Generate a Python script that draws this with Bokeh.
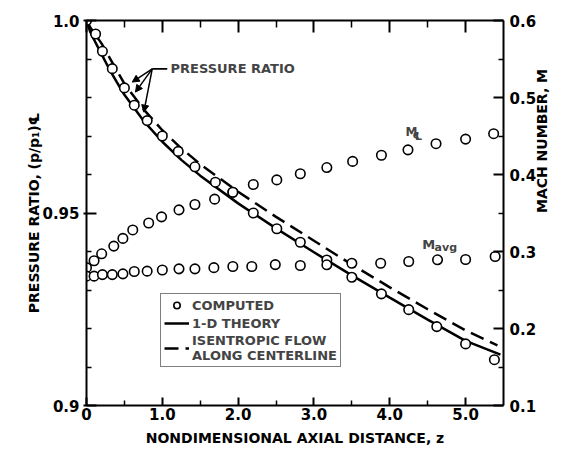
import math
from bokeh.plotting import figure
from bokeh.models import (Range1d, LinearAxis, FixedTicker, Legend, LegendItem,
                          Label, Arrow, NormalHead)
from bokeh.embed import file_html
from bokeh.resources import INLINE

# ---------------- data ----------------
# computed pressure ratio on centerline
z_pres = [0.0, 0.12, 0.21, 0.34, 0.50, 0.63, 0.80, 1.00, 1.21, 1.43, 1.70, 1.93,
          2.20, 2.51, 2.82, 3.17, 3.50, 3.89, 4.25, 4.62, 5.00, 5.38]
p_comp = [1.000, 0.9965, 0.992, 0.9875, 0.9825, 0.978, 0.974, 0.970, 0.966, 0.962,
          0.958, 0.9554, 0.950, 0.9459, 0.9424, 0.9378, 0.9333, 0.929, 0.9249,
          0.9205, 0.916, 0.9119]

# computed Mach number on centerline
z_mcl = [0.0, 0.10, 0.20, 0.36, 0.48, 0.61, 0.82, 0.99, 1.22, 1.43, 1.69, 1.93,
         2.20, 2.51, 2.82, 3.17, 3.51, 3.89, 4.24, 4.61, 5.00, 5.37]
m_cl = [0.279, 0.288, 0.297, 0.307, 0.317, 0.328, 0.337, 0.345, 0.354, 0.361, 0.368,
        0.377, 0.387, 0.393, 0.401, 0.409, 0.417, 0.425, 0.432, 0.440, 0.446, 0.453]

# computed average Mach number
z_mavg = [0.0, 0.10, 0.21, 0.34, 0.48, 0.63, 0.80, 1.00, 1.22, 1.43, 1.68, 1.93,
          2.18, 2.49, 2.82, 3.17, 3.50, 3.88, 4.25, 4.63, 5.00, 5.39]
m_avg = [0.268, 0.268, 0.270, 0.270, 0.271, 0.274, 0.2745, 0.276, 0.2775, 0.2775,
         0.279, 0.2805, 0.2805, 0.283, 0.2818, 0.2827, 0.2848, 0.2848, 0.287,
         0.2892, 0.2896, 0.2935]

# 1-D theory pressure ratio
z_theory = [0.0, 0.05, 0.1, 0.2, 0.3, 0.4, 0.5, 0.75, 1.0, 1.25, 1.5, 2.0, 2.5,
            3.0, 3.5, 4.0, 4.5, 5.0, 5.46]
p_theory = [1.0, 0.9970, 0.9950, 0.9912, 0.9874, 0.9840, 0.9807, 0.9740, 0.9685,
            0.9638, 0.9597, 0.9525, 0.9460, 0.9398, 0.9338, 0.9280, 0.9223,
            0.9168, 0.9132]

# isentropic flow along centerline
z_isen = [0.0, 0.05, 0.1, 0.2, 0.3, 0.4, 0.5, 0.75, 1.0, 1.25, 1.5, 2.0, 2.5,
          3.0, 3.5, 4.0, 4.5, 5.0, 5.42]
p_isen = [1.0, 0.9982, 0.9968, 0.9940, 0.9905, 0.9870, 0.9836, 0.9770, 0.9715,
          0.9668, 0.9627, 0.9555, 0.9490, 0.9428, 0.9366, 0.9307, 0.9250,
          0.9195, 0.9156]

# ticks
x_ticks = [0, 1, 2, 3, 4, 5]
x_labels = ["0", "1.0", "2.0", "3.0", "4.0", "5.0"]
x_minor = [0.5, 1.5, 2.5, 3.5, 4.5]
p_ticks = [0.9, 0.95, 1.0]
p_labels = ["0.9", "0.95", "1.0"]
p_minor = [0.91, 0.92, 0.93, 0.94, 0.96, 0.97, 0.98, 0.99]
m_ticks = [0.1, 0.2, 0.3, 0.4, 0.5, 0.6]
m_labels = ["0.1", "0.2", "0.3", "0.4", "0.5", "0.6"]
m_minor = [0.15, 0.25, 0.35, 0.45, 0.55]

FONT = "DejaVu Sans"

p = figure(width=561, height=449, output_backend="svg", toolbar_location=None,
           x_range=Range1d(0, 5.5), y_range=Range1d(0.9, 1.0),
           x_axis_location=None, y_axis_location=None,
           min_border_left=86, min_border_right=58, min_border_top=20,
           min_border_bottom=44)
p.extra_y_ranges = {"mach": Range1d(0.1, 0.6)}
p.outline_line_color = None
p.background_fill_color = "white"
p.border_fill_color = "white"
p.xgrid.visible = False
p.ygrid.visible = False


def style(ax, tick_in, minor_in, tick_out=0):
    ax.axis_line_width = 2
    ax.axis_line_color = "black"
    ax.major_tick_line_width = 2
    ax.minor_tick_line_width = 1.5
    ax.major_tick_in = tick_in
    ax.major_tick_out = tick_out
    ax.minor_tick_in = minor_in
    ax.minor_tick_out = 0
    ax.major_label_text_font = FONT
    ax.major_label_text_font_style = "bold"
    ax.major_label_text_font_size = "15px"
    ax.major_label_text_color = "black"
    ax.axis_label_text_font = FONT
    ax.axis_label_text_font_style = "bold"
    ax.axis_label_text_font_size = "14px"
    ax.axis_label_text_color = "black"


left = LinearAxis(ticker=FixedTicker(ticks=p_ticks, minor_ticks=p_minor),
                  major_label_overrides=dict(zip(p_ticks, p_labels)),
                  axis_label="PRESSURE RATIO, (p/p\u2081)\u2104")
style(left, 10, 5, 3)
left.major_label_standoff = 4
left.axis_label_standoff = -3
p.add_layout(left, "left")

right = LinearAxis(y_range_name="mach",
                   ticker=FixedTicker(ticks=m_ticks, minor_ticks=m_minor),
                   major_label_overrides=dict(zip(m_ticks, m_labels)),
                   axis_label="MACH NUMBER, M")
style(right, 10, 5)
right.major_label_standoff = 6
right.axis_label_standoff = 3
right.axis_label_orientation = math.pi / 2
p.add_layout(right, "right")

bottom = LinearAxis(ticker=FixedTicker(ticks=x_ticks, minor_ticks=x_minor),
                    major_label_overrides=dict(zip(x_ticks, x_labels)),
                    axis_label="NONDIMENSIONAL AXIAL DISTANCE, z")
style(bottom, 8, 5)
bottom.major_label_standoff = 2
bottom.axis_label_standoff = 7
p.add_layout(bottom, "below")

top = LinearAxis(ticker=FixedTicker(ticks=x_ticks, minor_ticks=x_minor),
                 major_label_overrides={t: "" for t in x_ticks})
style(top, 12, 7)
top.major_label_text_font_size = "0px"
p.add_layout(top, "above")

# curves
theory = p.line(z_theory, p_theory, line_color="black", line_width=2.5)
isen = p.line(z_isen, p_isen, line_color="black", line_width=2.5, line_dash="14 7")

circ = dict(marker="circle", size=9.5, line_color="black", line_width=1.6,
            fill_color="white")
comp = p.scatter(z_pres, p_comp, **circ)
p.scatter(z_mcl, m_cl, y_range_name="mach", **circ)
p.scatter(z_mavg, m_avg, y_range_name="mach", **circ)

# pressure-ratio annotation with arrows
hub_x, hub_y = 0.867, 0.98745
for xe, ye in [(0.603, 0.9840), (0.646, 0.9814), (0.756, 0.9762)]:
    p.add_layout(Arrow(x_start=hub_x, y_start=hub_y, x_end=xe, y_end=ye,
                       line_width=1.5, line_color="black",
                       end=NormalHead(size=7, fill_color="black", line_color="black")))
p.segment(x0=[hub_x], y0=[hub_y], x1=[1.065], y1=[hub_y], line_color="black",
          line_width=1.8)
p.add_layout(Label(x=1.108, y=hub_y, text="PRESSURE RATIO", text_font=FONT,
                   text_font_style="bold", text_font_size="13px",
                   text_baseline="middle"))

# curve labels
p.add_layout(Label(x=4.208, y=0.4558, y_range_name="mach", text="M", text_font=FONT,
                   text_font_style="bold", text_font_size="12px",
                   text_baseline="alphabetic"))
p.add_layout(Label(x=4.30, y=0.449, y_range_name="mach", text="\u2104",
                   text_font=FONT, text_font_style="bold", text_font_size="11px",
                   text_baseline="alphabetic"))
p.add_layout(Label(x=4.429, y=0.3087, y_range_name="mach", text="M", text_font=FONT,
                   text_font_style="bold", text_font_size="13px",
                   text_baseline="alphabetic"))
p.add_layout(Label(x=4.591, y=0.3056, y_range_name="mach", text="avg",
                   text_font=FONT, text_font_style="bold", text_font_size="11px",
                   text_baseline="alphabetic"))

legend = Legend(items=[LegendItem(label="COMPUTED", renderers=[comp]),
                       LegendItem(label="1-D THEORY", renderers=[theory]),
                       LegendItem(label="ISENTROPIC FLOW\nALONG CENTERLINE",
                                  renderers=[isen])],
                location=(74, 38))
legend.label_text_font = FONT
legend.label_text_font_style = "bold"
legend.label_text_font_size = "13px"
legend.border_line_color = "black"
legend.border_line_width = 1.5
legend.background_fill_color = "white"
legend.background_fill_alpha = 1
legend.glyph_width = 25
legend.glyph_height = 16
legend.label_height = 16
legend.label_standoff = 3
legend.spacing = 2
legend.padding = 3
legend.margin = 0
p.add_layout(legend)

open("out.html", "w").write(file_html(p, INLINE))
